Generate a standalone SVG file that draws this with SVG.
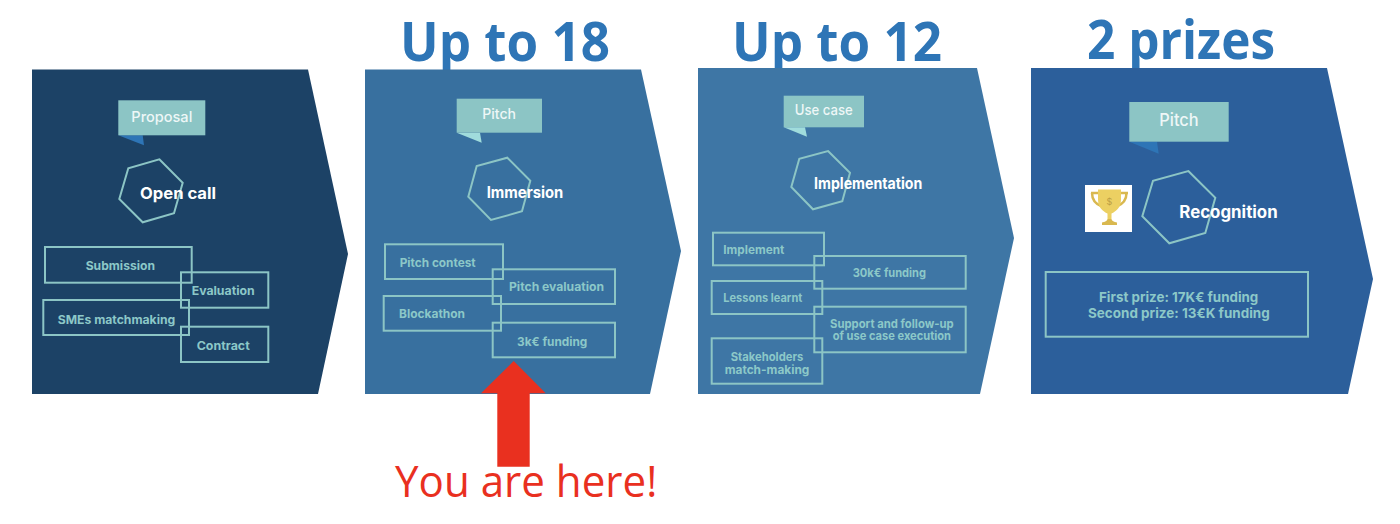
<svg xmlns="http://www.w3.org/2000/svg" width="1400" height="524" viewBox="0 0 1400 524">
<style>
text{font-family:"Inter","Noto Sans","Liberation Sans",sans-serif}
.box{fill:none;stroke:#8cc5c5;stroke-width:2}
.hex{fill:none;stroke:#8cc5c5;stroke-width:2}
.call{fill:#8cc5c5}
.lab{fill:#8cc8c8;font-size:12px;font-weight:700}
.big{font-size:13.500px}
.callt{fill:#eef7f7;font-size:14.500px;font-weight:500}
.head{fill:#fff;font-size:16px;font-weight:700}
.title{fill:#2e75b6;font-family:"Open Sans","Liberation Sans",sans-serif;font-size:53px;font-weight:700}
.here{fill:#e9301f;font-family:"Open Sans","Liberation Sans",sans-serif;font-size:44px}
</style>
<rect width="1400" height="524" fill="#fff"/>
<g id="title-18"><text class="title" x="400" y="61" textLength="210" lengthAdjust="spacingAndGlyphs">Up to 18</text></g>
<g id="title-12"><text class="title" x="732" y="61" textLength="210" lengthAdjust="spacingAndGlyphs">Up to 12</text></g>
<g id="title-prizes"><text class="title" x="1087" y="59" textLength="188" lengthAdjust="spacingAndGlyphs">2 prizes</text></g>

<g id="open-call">
<polygon fill="#1c4266" points="32,69.5 308,69.5 348,254 318,394 32,394"/>
<polygon fill="#2e75b6" points="118.3,135.3 144,145.3 142.7,135.3"/>
<rect class="call" x="118.3" y="100.3" width="87" height="35"/>
<text class="callt" x="131.3" y="122" textLength="61" lengthAdjust="spacingAndGlyphs">Proposal</text>
<polygon class="hex" points="159.3,159.3 182.7,182.7 174,213.3 142.7,222.3 119.3,199 128.3,168.3"/>
<text class="head" x="140" y="198.7" textLength="76" lengthAdjust="spacingAndGlyphs">Open call</text>
<rect class="box" x="45" y="247" width="146.7" height="35.7"/>
<rect class="box" x="181" y="272.3" width="87.3" height="35.4"/>
<rect class="box" x="43.3" y="300" width="145.7" height="35"/>
<rect class="box" x="181" y="326.7" width="87.3" height="35.3"/>
<text class="lab" x="85.7" y="270" textLength="69.3" lengthAdjust="spacingAndGlyphs">Submission</text>
<text class="lab" x="191.7" y="295" textLength="63" lengthAdjust="spacingAndGlyphs">Evaluation</text>
<text class="lab" x="57.7" y="323.7" textLength="117.6" lengthAdjust="spacingAndGlyphs">SMEs matchmaking</text>
<text class="lab" x="196.7" y="350.3" textLength="53" lengthAdjust="spacingAndGlyphs">Contract</text>
</g>

<g id="immersion">
<polygon fill="#38709f" points="365,69.5 641,69.5 681,251 650,394 365,394"/>
<polygon fill="#a0dcdc" points="456.7,132.7 481.7,142.7 480,132.7"/>
<rect class="call" x="456.7" y="98.7" width="85.3" height="34"/>
<text class="callt" x="482.3" y="119.3" textLength="33.7" lengthAdjust="spacingAndGlyphs">Pitch</text>
<polygon class="hex" points="507.3,157.7 530.3,180.7 522,211.3 491,220 468.3,196.7 476.7,166"/>
<text class="head" x="486.7" y="198.3" textLength="76.6" lengthAdjust="spacingAndGlyphs">Immersion</text>
<rect class="box" x="385" y="244.3" width="118" height="34.7"/>
<rect class="box" x="492.7" y="269.3" width="122.3" height="34.7"/>
<rect class="box" x="383.7" y="296" width="117.3" height="34.7"/>
<rect class="box" x="492.7" y="322.7" width="122.3" height="34.6"/>
<text class="lab" x="399.7" y="266.7" textLength="76" lengthAdjust="spacingAndGlyphs">Pitch contest</text>
<text class="lab" x="509" y="291.3" textLength="95" lengthAdjust="spacingAndGlyphs">Pitch evaluation</text>
<text class="lab" x="399" y="318" textLength="66" lengthAdjust="spacingAndGlyphs">Blockathon</text>
<text class="lab" x="517" y="345.7" textLength="70.3" lengthAdjust="spacingAndGlyphs">3k€ funding</text>
</g>

<g id="implementation">
<polygon fill="#3e76a5" points="698,68 977,68 1014,238 980,394 698,394"/>
<polygon fill="#a0dcdc" points="783.7,127.3 807,136.7 805,127.3"/>
<rect class="call" x="783.7" y="95.7" width="80.3" height="31.6"/>
<text class="callt" x="794.7" y="115" textLength="58" lengthAdjust="spacingAndGlyphs">Use case</text>
<polygon class="hex" points="828,151 850,172.7 842.3,201.3 813,209.3 791.3,187 799.3,158.7"/>
<text class="head" x="814" y="189.3" textLength="108.3" lengthAdjust="spacingAndGlyphs">Implementation</text>
<rect class="box" x="713" y="232.7" width="111" height="32.6"/>
<rect class="box" x="814.3" y="256" width="151.4" height="32.7"/>
<rect class="box" x="711.7" y="281" width="110.6" height="33"/>
<rect class="box" x="814.3" y="306.7" width="151.4" height="45.6"/>
<rect class="box" x="711.7" y="338.3" width="110.6" height="45.4"/>
<text class="lab" x="723.3" y="254" textLength="61" lengthAdjust="spacingAndGlyphs">Implement</text>
<text class="lab" x="852.7" y="277.3" textLength="73.3" lengthAdjust="spacingAndGlyphs">30k€ funding</text>
<text class="lab" x="723.3" y="302.3" textLength="79" lengthAdjust="spacingAndGlyphs">Lessons learnt</text>
<text class="lab" x="830" y="328" textLength="123.7" lengthAdjust="spacingAndGlyphs">Support and follow-up</text>
<text class="lab" x="832.7" y="340.3" textLength="118.3" lengthAdjust="spacingAndGlyphs">of use case execution</text>
<text class="lab" x="730.7" y="361.3" textLength="72.6" lengthAdjust="spacingAndGlyphs">Stakeholders</text>
<text class="lab" x="724.7" y="373.7" textLength="84.6" lengthAdjust="spacingAndGlyphs">match-making</text>
</g>

<g id="recognition">
<polygon fill="#2c5f9b" points="1031,68 1327,68 1373,279 1348,394 1031,394"/>
<polygon fill="#2e75b6" points="1129.3,141.7 1158.7,153.7 1157,141.7"/>
<rect class="call" x="1129.3" y="102" width="99.4" height="39.7"/>
<text class="callt" x="1159.3" y="126" textLength="39.4" lengthAdjust="spacingAndGlyphs" style="font-size:17px">Pitch</text>
<rect x="1085" y="185" width="47" height="47" fill="#fff"/>
<g id="trophy">
<path d="M1092,193 c0,7 3,11 10,13.500 M1126.500,193 c0,7 -3,11 -10,13.500 M1091,193 h7 M1121,193 h7" fill="none" stroke="#d9b84f" stroke-width="2.500"/>
<path d="M1098,189.500 h23 v10 c0,8 -5,12 -9.500,14 v6 h-4 v-6 c-4.500,-2 -9.500,-6 -9.500,-14 z" fill="#ecd062"/>
<path d="M1107.500,219 h4 c0,2 3,3 5.500,3.500 v2.500 h-15 v-2.500 c2.500,-.5 5.500,-1.500 5.500,-3.500 z" fill="#d9b84f"/>
<text x="1109.300" y="205" text-anchor="middle" style="font-size:9px;fill:#bd9f45">$</text>
</g>
<polygon class="hex" points="1188.3,171 1215.3,197.7 1205.3,233 1169.3,243.3 1142.3,216.3 1153,180.7"/>
<text class="head" x="1179.3" y="218" textLength="98.4" lengthAdjust="spacingAndGlyphs" style="font-size:17px">Recognition</text>
<rect class="box" x="1045.7" y="272" width="262.3" height="64.7"/>
<text class="lab big" x="1099" y="301.700" textLength="159.3" lengthAdjust="spacingAndGlyphs">First prize: 17K€ funding</text>
<text class="lab big" x="1088" y="318" textLength="181.7" lengthAdjust="spacingAndGlyphs">Second prize: 13€K funding</text>
</g>

<g id="you-are-here">
<polygon fill="#e9301f" points="513.7,361 545.7,393.3 529.7,393.3 529.7,466.7 497.3,466.7 497.3,393.3 481,393.3"/>
<text class="here" x="395" y="497.300" textLength="262.3" lengthAdjust="spacingAndGlyphs">You are here!</text>
</g>
<g id="connectors"/>
</svg>
